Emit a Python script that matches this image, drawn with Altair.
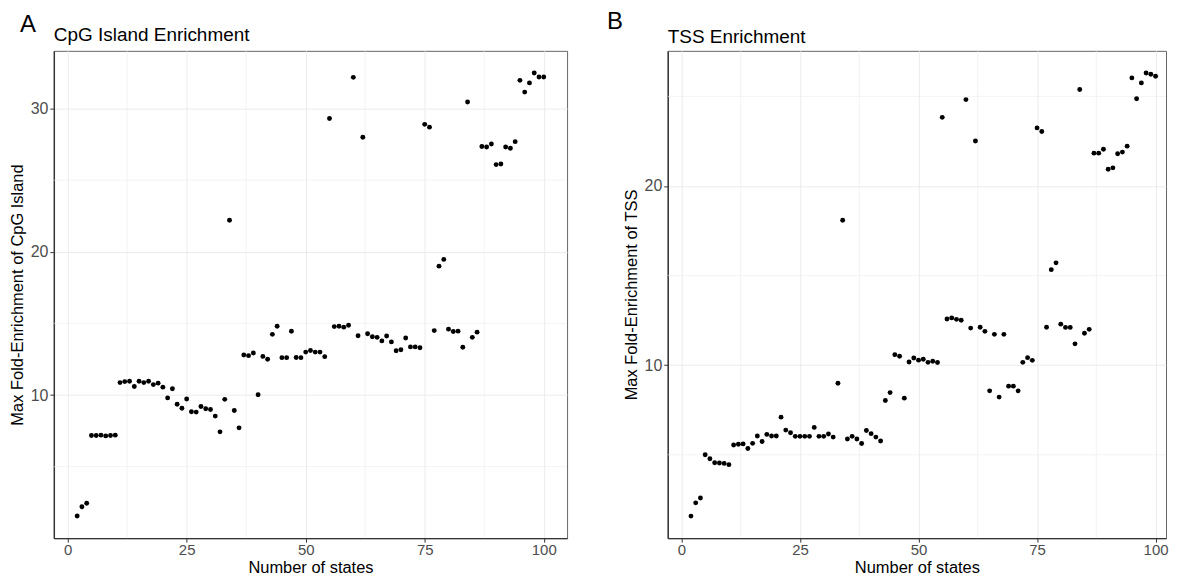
import altair as alt
import pandas as pd

FONT = "Liberation Sans"

# ---- data ----
states = list(range(2, 101))

cpg = [1.56, 2.20, 2.45, 7.18, 7.18, 7.20, 7.15, 7.18, 7.20,
       10.87, 10.94, 10.96, 10.60, 10.96, 10.87, 10.96, 10.73, 10.83, 10.55,
       9.80, 10.44, 9.36, 9.08, 9.72, 8.83, 8.81, 9.20, 9.04, 8.99,
       8.53, 7.43, 9.70, 22.20, 8.92, 7.71, 12.80, 12.75, 12.94, 10.02,
       12.70, 12.50, 14.24, 14.80, 12.61, 12.61, 14.45, 12.62, 12.61, 13.00,
       13.11, 13.00, 13.00, 12.68, 29.31, 14.78, 14.80, 14.74, 14.87, 32.18,
       14.14, 28.00, 14.28, 14.07, 14.03, 13.78, 14.12, 13.71, 13.09, 13.16,
       13.98, 13.36, 13.36, 13.30, 28.90, 28.70, 14.50, 19.00, 19.47, 14.60,
       14.44, 14.46, 13.34, 30.46, 14.03, 14.39, 27.35, 27.32, 27.53, 26.09,
       26.13, 27.32, 27.23, 27.69, 31.97, 31.15, 31.79, 32.48, 32.20, 32.20]

tss = [1.58, 2.32, 2.59, 5.00, 4.78, 4.56, 4.54, 4.52, 4.45,
       5.55, 5.59, 5.61, 5.35, 5.64, 6.05, 5.74, 6.14, 6.05, 6.05,
       7.10, 6.38, 6.23, 6.03, 6.03, 6.03, 6.03, 6.53, 6.03, 6.03,
       6.16, 5.99, 8.99, 18.09, 5.88, 6.03, 5.88, 5.63, 6.36, 6.18,
       5.99, 5.77, 8.03, 8.47, 10.59, 10.50, 8.16, 10.18, 10.40, 10.28,
       10.33, 10.16, 10.22, 10.15, 23.83, 12.58, 12.64, 12.56, 12.51, 24.82,
       12.07, 22.51, 12.12, 11.89, 8.57, 11.72, 8.22, 11.72, 8.83, 8.83,
       8.57, 10.16, 10.42, 10.27, 23.24, 23.04, 12.12, 15.33, 15.71, 12.29,
       12.11, 12.11, 11.19, 25.38, 11.78, 12.00, 21.83, 21.83, 22.05, 20.93,
       21.01, 21.80, 21.89, 22.22, 26.03, 24.87, 25.75, 26.30, 26.23, 26.12]

x_major = [0, 25, 50, 75, 100]
x_minor = [12.5, 37.5, 62.5, 87.5]
cpg_major = [10, 20, 30]
cpg_minor = [5, 15, 25]
tss_major = [10, 20]
tss_minor = [5, 15, 25]

tags = ["A", "B"]
titles = ["CpG Island Enrichment", "TSS Enrichment"]
y_titles = ["Max Fold-Enrichment of CpG Island", "Max Fold-Enrichment of TSS"]
x_title = "Number of states"


def panel(values, y_major, y_minor, x_domain, y_domain, tag, title, y_title,
          tag_x, tag_y, title_y, w, h):
    df = pd.DataFrame({"states": states, "value": values})
    xs = alt.Scale(domain=x_domain, nice=False, zero=False)
    ys = alt.Scale(domain=y_domain, nice=False, zero=False)
    xa = alt.Axis(values=x_major, title=x_title, labelFlush=False)
    ya = alt.Axis(values=y_major, title=y_title)

    vgrid = alt.Chart(pd.DataFrame({"g": x_minor})).mark_rule(
        color="#EBEBEB", strokeWidth=0.6
    ).encode(x=alt.X("g:Q", scale=xs, axis=xa))
    hgrid = alt.Chart(pd.DataFrame({"g": y_minor})).mark_rule(
        color="#EBEBEB", strokeWidth=0.6
    ).encode(y=alt.Y("g:Q", scale=ys, axis=ya))

    pts = alt.Chart(df).mark_circle(size=24, color="black", opacity=1).encode(
        x=alt.X("states:Q", scale=xs, axis=xa),
        y=alt.Y("value:Q", scale=ys, axis=ya),
    )

    tag_mark = alt.Chart(pd.DataFrame({"t": [tag]})).mark_text(
        align="left", baseline="alphabetic", fontSize=24, font=FONT, color="black"
    ).encode(text="t:N", x=alt.value(tag_x), y=alt.value(tag_y))

    title_mark = alt.Chart(pd.DataFrame({"t": [title]})).mark_text(
        align="left", baseline="alphabetic", fontSize=19, font=FONT, color="black"
    ).encode(text="t:N", x=alt.value(0), y=alt.value(title_y))

    return alt.layer(vgrid, hgrid, pts, tag_mark, title_mark).properties(
        width=w, height=h
    )


left = panel(cpg, cpg_major, cpg_minor, [-2.9, 104.9], [0.01, 34.03],
             tags[0], titles[0], y_titles[0], -34, -18.8, -9.5, 515, 489)
right = panel(tss, tss_major, tss_minor, [-2.9, 102.2], [0.35, 27.54],
              tags[1], titles[1], y_titles[1], -61, -21.8, -8, 500, 489)

chart = alt.hconcat(left, right, spacing=38).properties(
    padding={"left": 0, "top": 0, "right": 0, "bottom": 0}
).configure_view(
    stroke="#666666", strokeWidth=1
).configure_axis(
    grid=True,
    gridColor="#EBEBEB",
    gridWidth=1,
    domainColor="#333333",
    domainWidth=1.4,
    tickColor="#333333",
    tickSize=4,
    tickWidth=1,
    labelColor="#4D4D4D",
    labelFont=FONT,
    labelFontSize=16,
    titleFont=FONT,
    titleFontSize=16.5,
    titleFontWeight="normal",
    titleColor="black",
).configure_axisX(
    labelFontSize=15,
    labelPadding=0,
    titleBaseline="alphabetic",
    titlePadding=15.5,
).configure_axisY(
    labelPadding=2,
    titlePadding=5,
)

chart.save("out.html", embed_options={"renderer": "svg", "actions": False})
